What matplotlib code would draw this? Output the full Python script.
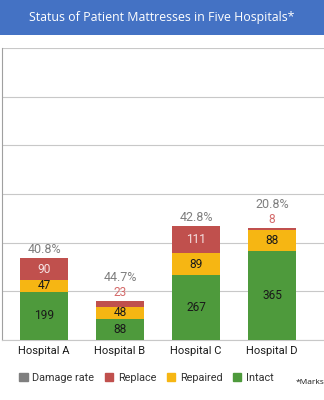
import matplotlib
matplotlib.use("Agg")
import matplotlib.pyplot as plt
from matplotlib.patches import Rectangle, Patch

# data
hospitals = ["Hospital A", "Hospital B", "Hospital C", "Hospital D"]
intact = [199, 88, 267, 365]
repaired = [47, 48, 89, 88]
replace = [90, 23, 111, 8]
damage_rate = [40.8, 44.7, 42.8, 20.8]

C_INTACT = "#4e9a3c"
C_REPAIR = "#f6b613"
C_REPLACE = "#c0504d"
C_DAMAGE = "#7f7f7f"
C_HEAD = "#4472c4"

plt.rcParams["font.family"] = ["Roboto", "DejaVu Sans"]

W, H = 324, 400
fig = plt.figure(figsize=(W / 100, H / 100), dpi=100)

# blue header bar
fig.patches.append(Rectangle((0, 1 - 35 / H), 1, 35 / H, transform=fig.transFigure,
                             facecolor=C_HEAD, edgecolor="none", zorder=0))
fig.text(0.5, 1 - 17 / H, "Status of Patient Mattresses in Five Hospitals*",
         ha="center", va="center", color="white", fontsize=8.9,
         family=["Open Sans", "DejaVu Sans"])

ax = fig.add_axes([2 / W, 60 / H, 1 - 2 / W, 292 / H])
x = list(range(len(hospitals)))
bw = 0.62
ax.bar(x, intact, bw, color=C_INTACT, zorder=3)
ax.bar(x, repaired, bw, bottom=intact, color=C_REPAIR, zorder=3)
base2 = [a + b for a, b in zip(intact, repaired)]
ax.bar(x, replace, bw, bottom=base2, color=C_REPLACE, zorder=3)

fs = 8.6
for i in x:
    ax.text(i, intact[i] / 2, str(intact[i]), ha="center", va="center",
            fontsize=fs, color="#1a1a1a", zorder=4)
    ax.text(i, intact[i] + repaired[i] / 2, str(repaired[i]), ha="center",
            va="center", fontsize=fs, color="#1a1a1a", zorder=4)
    top = base2[i] + replace[i]
    if replace[i] >= 50:
        ax.text(i, base2[i] + replace[i] / 2, str(replace[i]), ha="center",
                va="center", fontsize=fs, color="#f6e4e4", zorder=4)
        ax.text(i, top + 8, f"{damage_rate[i]}%", ha="center", va="bottom",
                fontsize=9, color="#7f7f7f", zorder=4)
    else:
        ax.text(i, top + 8, str(replace[i]), ha="center", va="bottom",
                fontsize=fs, color="#d46a6a", zorder=4)
        ax.text(i, top + 70, f"{damage_rate[i]}%", ha="center", va="bottom",
                fontsize=9, color="#7f7f7f", zorder=4)

ax.set_ylim(0, 1200)
ax.set_xlim(-0.553, 3.684)
ax.set_yticks(range(0, 1201, 200))
ax.yaxis.grid(True, color="#c8c8c8", linewidth=0.8, zorder=0)
ax.tick_params(axis="y", length=0, labelleft=False)
ax.tick_params(axis="x", length=0, labelsize=8.0, pad=4.5)
ax.set_xticks(x)
ax.set_xticklabels(hospitals, color="#1a1a1a")
for s in ["top", "right"]:
    ax.spines[s].set_visible(False)
ax.spines["left"].set_color("#a0a0a0")
ax.spines["bottom"].set_color("#c8c8c8")

handles = [Patch(color=C_DAMAGE, label="Damage rate"),
           Patch(color=C_REPLACE, label="Replace"),
           Patch(color=C_REPAIR, label="Repaired"),
           Patch(color=C_INTACT, label="Intact")]
fig.legend(handles=handles, loc="center left", bbox_to_anchor=(17 / W, 1 - 378 / H),
           ncol=4, frameon=False, fontsize=7.8, handlelength=0.78, handleheight=0.78,
           handletextpad=0.45, columnspacing=0.95, labelcolor="#333333",
           borderaxespad=0, borderpad=0.2)
fig.text(296 / W, 1 - 383 / H, "*Marks", fontsize=6, color="#1a1a1a",
         ha="left", va="center", family=["Open Sans", "DejaVu Sans"])

fig.savefig("out.png", dpi=100)
